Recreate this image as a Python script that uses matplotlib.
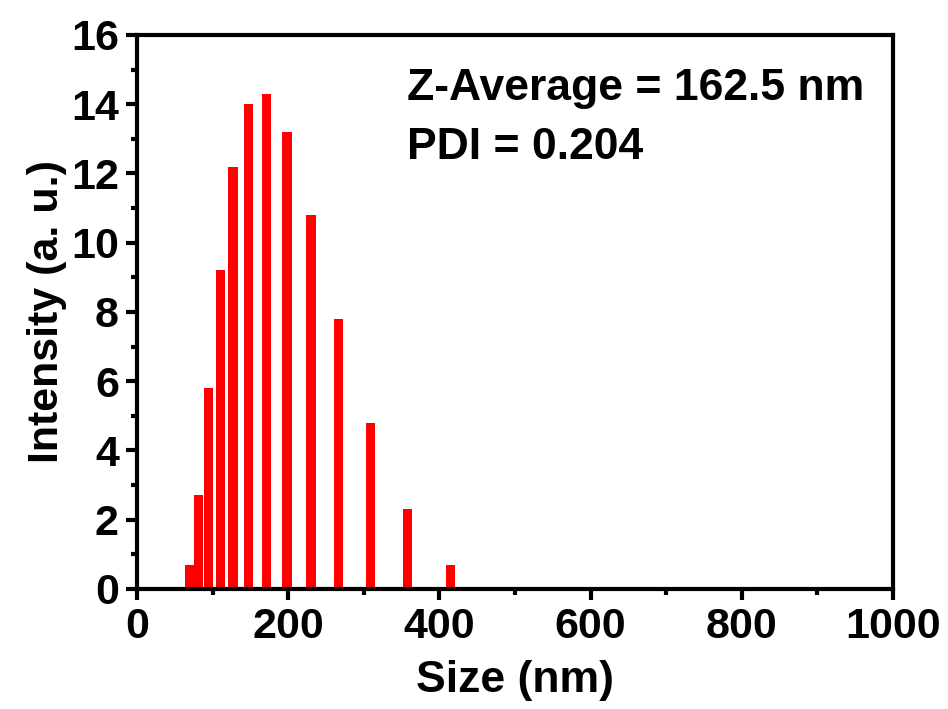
import numpy as np
import matplotlib
matplotlib.use("Agg")
import matplotlib.pyplot as plt
from matplotlib.ticker import MultipleLocator

plt.rcParams['font.family'] = ['Liberation Sans', 'DejaVu Sans']
plt.rcParams['font.weight'] = 'bold'

# DLS size distribution
size_nm = [69.6, 81.6, 94.3, 110.3, 127.2, 147.8, 171.2, 198.3, 230.0, 266.3, 309.2, 358.0, 415.0]
intensity = [0.7, 2.7, 5.8, 9.2, 12.2, 14.0, 14.3, 13.2, 10.8, 7.8, 4.8, 2.3, 0.7]
z_average = 162.5
pdi = 0.204

fig = plt.figure(figsize=(9.48, 7.09), dpi=100)
ax = fig.add_axes([0.1445, 0.1693, 0.7975, 0.7814])

ax.bar(size_nm, intensity, width=12.5, color='#ff0000', edgecolor='none')

ax.set_xlim(0, 1000)
ax.set_ylim(0, 16)
ax.xaxis.set_major_locator(MultipleLocator(200))
ax.xaxis.set_minor_locator(MultipleLocator(100))
ax.yaxis.set_major_locator(MultipleLocator(2))
ax.yaxis.set_minor_locator(MultipleLocator(1))

for s in ax.spines.values():
    s.set_linewidth(3)
ax.tick_params(which='major', direction='out', length=8, width=3, labelsize=31, pad=5)
ax.tick_params(which='minor', direction='out', length=4, width=3)
for lab in ax.get_xticklabels() + ax.get_yticklabels():
    lab.set_fontweight('bold')

ax.set_xlabel("Size (nm)", fontsize=32, fontweight='bold', labelpad=9)
ax.set_ylabel("Intensity (a. u.)", fontsize=31, fontweight='bold', labelpad=3)

ax.text(0.357, 0.8827, f"Z-Average = {z_average} nm", transform=ax.transAxes,
        fontsize=32, fontweight='bold', va='baseline', ha='left')
ax.text(0.357, 0.7762, f"PDI = {pdi}", transform=ax.transAxes,
        fontsize=32, fontweight='bold', va='baseline', ha='left')

fig.savefig("out.png", dpi=100)
